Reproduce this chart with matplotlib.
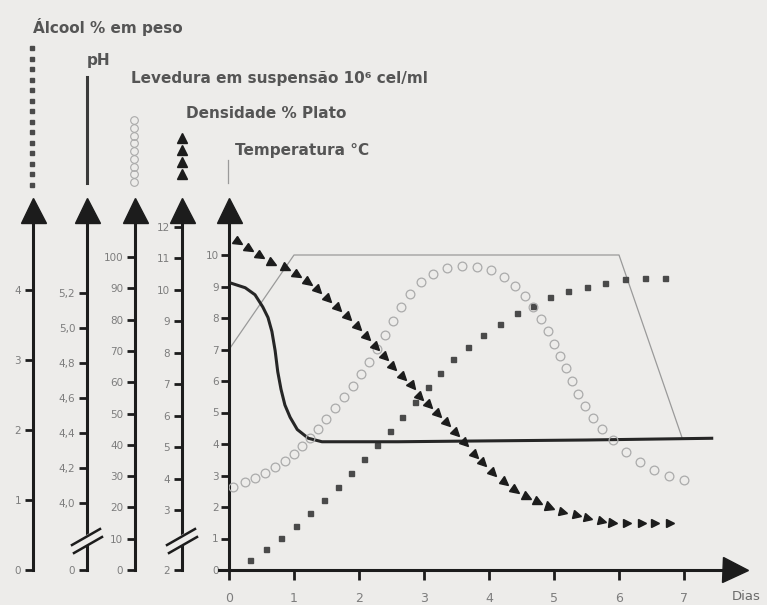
import numpy as np
import matplotlib
matplotlib.use("Agg")
import matplotlib.pyplot as plt
from matplotlib.transforms import offset_copy, Affine2D
from matplotlib.markers import MarkerStyle

# --- data (x in days) ---
# temperature (degC)
temp_days = [0, 1.0, 6.0, 6.97]
temp_vals = [7.0, 10.0, 10.0, 4.2]

# pH
ph_days = [0.0, 0.25, 0.40, 0.52, 0.60, 0.66, 0.71, 0.75, 0.80, 0.86, 0.94, 1.05,
           1.22, 1.43, 2.6, 4.0, 5.5, 7.45]
ph_vals = [5.26, 5.23, 5.19, 5.12, 5.06, 4.98, 4.87, 4.75, 4.65, 4.56, 4.49, 4.42,
           4.37, 4.35, 4.35, 4.355, 4.36, 4.37]

# density (% Plato), one entry per triangle
dens_days = [0.14, 0.31, 0.48, 0.66, 0.88, 1.05, 1.22, 1.37, 1.52, 1.68, 1.83, 1.98,
             2.12, 2.26, 2.40, 2.52, 2.68, 2.82, 2.94, 3.08, 3.22, 3.35, 3.49, 3.63,
             3.78, 3.91, 4.06, 4.25, 4.40, 4.58, 4.75, 4.94, 5.14, 5.35, 5.52, 5.74,
             5.91, 6.12, 6.35, 6.55, 6.78]
dens_vals = [11.52, 11.30, 11.08, 10.86, 10.70, 10.47, 10.25, 10.00, 9.71, 9.42, 9.14,
             8.82, 8.50, 8.18, 7.87, 7.55, 7.23, 6.94, 6.59, 6.34, 6.05, 5.77, 5.45,
             5.13, 4.75, 4.49, 4.18, 3.89, 3.64, 3.41, 3.25, 3.10, 2.94, 2.84, 2.75,
             2.65, 2.59, 2.59, 2.59, 2.59, 2.59]

# yeast in suspension (10^6 cel/ml), one entry per circle
yeast_days = [0.06, 0.25, 0.40, 0.55, 0.71, 0.86, 1.00, 1.12, 1.25, 1.37, 1.49, 1.63,
              1.77, 1.91, 2.03, 2.15, 2.28, 2.40, 2.52, 2.65, 2.78, 2.95, 3.14, 3.35,
              3.58, 3.82, 4.03, 4.23, 4.40, 4.55, 4.68, 4.80, 4.91, 5.00, 5.09, 5.18,
              5.28, 5.37, 5.48, 5.60, 5.74, 5.91, 6.11, 6.32, 6.54, 6.77, 7.00]
yeast_vals = [26.5, 28.1, 29.4, 31.0, 32.9, 34.8, 37.1, 39.6, 42.2, 45.0, 48.2, 51.8,
              55.3, 58.8, 62.6, 66.5, 70.6, 75.1, 79.6, 84.0, 88.2, 92.0, 94.6, 96.5,
              97.1, 96.8, 95.8, 93.6, 90.7, 87.5, 84.0, 80.2, 76.4, 72.2, 68.4, 64.5,
              60.4, 56.2, 52.4, 48.6, 45.0, 41.5, 37.7, 34.5, 31.9, 30.0, 28.8]

# alcohol (% em peso), one entry per dash
alc_days = [0.32, 0.57, 0.80, 1.03, 1.25, 1.46, 1.68, 1.88, 2.08, 2.28, 2.48, 2.66,
            2.86, 3.06, 3.25, 3.45, 3.68, 3.91, 4.17, 4.43, 4.68, 4.94, 5.22, 5.51,
            5.78, 6.09, 6.40, 6.71]
alc_vals = [0.14, 0.30, 0.46, 0.63, 0.81, 1.00, 1.19, 1.39, 1.59, 1.79, 1.99, 2.19,
            2.40, 2.61, 2.81, 3.01, 3.19, 3.36, 3.51, 3.67, 3.77, 3.90, 3.99, 4.04,
            4.10, 4.16, 4.17, 4.17]

x_ticks = list(range(8))
temp_ticks = list(range(11))
alc_ticks = [0, 1, 2, 3, 4]
ph_ticks = [4.0, 4.2, 4.4, 4.6, 4.8, 5.0, 5.2]
ph_labels = ["4,0", "4,2", "4,4", "4,6", "4,8", "5,0", "5,2"]
yeast_ticks = list(range(0, 101, 10))
dens_ticks = list(range(3, 13))

W, H, DPI = 767, 605, 100
bg = "#edecea"
ink = "#1c1c1c"
lab = "#7d7d7d"

fig = plt.figure(figsize=(W / DPI, H / DPI), dpi=DPI, facecolor=bg)
plt.rcParams["font.family"] = ["DejaVu Sans"]

x0, x1, y0, y1 = 229, 735, 570, 210   # main axes box in pixels
ax = fig.add_axes([x0 / W, (H - y0) / H, (x1 - x0) / W, (y0 - y1) / H])
ax.set_facecolor("none")
ax.set_xlim(0, (x1 - x0) / 65)
ax.set_ylim(0, (y0 - y1) / 31.5)
for s in ["top", "right"]:
    ax.spines[s].set_visible(False)
for s in ["left", "bottom"]:
    ax.spines[s].set_linewidth(2.2)
    ax.spines[s].set_color(ink)
ax.spines["bottom"].set_bounds(-0.15, (x1 - x0) / 65)
ax.set_xticks(x_ticks)
ax.set_yticks(temp_ticks)
ax.tick_params(axis="y", length=5.5, width=2.0, color=ink, labelsize=7.5,
               labelcolor=lab, pad=2)
ax.tick_params(axis="x", length=7, width=2.0, color=ink, labelsize=9,
               labelcolor=lab, pad=9)
ax.plot([1], [0], marker=">", ms=18, color=ink, transform=ax.transAxes, clip_on=False)
ax.plot([0], [1], marker="^", ms=18, color=ink, transform=ax.transAxes, clip_on=False)


def side_axis(offset_px, ylim, ticks, labels):
    a = ax.twinx()
    off = offset_px * 72 / DPI
    a.patch.set_visible(False)
    for s in ["top", "right", "bottom"]:
        a.spines[s].set_visible(False)
    a.spines["left"].set_visible(True)
    a.spines["left"].set_position(("outward", off))
    a.spines["left"].set_linewidth(2.2)
    a.spines["left"].set_color(ink)
    a.yaxis.set_ticks_position("left")
    a.set_ylim(*ylim)
    a.set_yticks(ticks, labels)
    a.tick_params(axis="y", length=5.5, width=2.0, color=ink, labelsize=7.5,
                  labelcolor=lab, pad=3)
    tr = offset_copy(a.transAxes, fig=fig, x=-off, y=0, units="points")
    a.plot([0], [1], marker="^", ms=18, color=ink, transform=tr, clip_on=False)
    return a


ax_alc = side_axis(229 - 33, (0, 360 / 70), alc_ticks, [str(t) for t in alc_ticks])
ph_lo = 4.0 - 67 / 175
ax_ph = side_axis(229 - 87, (ph_lo, 4.0 + 293 / 175), [ph_lo] + ph_ticks, ["0"] + ph_labels)
ax_yst = side_axis(229 - 135, (0, 360 / 3.13), yeast_ticks, [str(t) for t in yeast_ticks])
d_lo = 3 - 60 / 31.44
ax_den = side_axis(229 - 182, (d_lo, 3 + 300 / 31.44), [d_lo] + dens_ticks,
                   ["2"] + [str(t) for t in dens_ticks])

# curves
ax.plot(temp_days, temp_vals, color="#9a9a9a", lw=0.9, zorder=2)
ax_yst.plot(yeast_days, yeast_vals, ls="none", marker="o", ms=6.3, mfc="none",
            mec="#ababab", mew=0.9)
ax_alc.plot(alc_days, alc_vals, ls="none", marker="s", ms=3.6, color="#4a4a4a")
ax_ph.plot(ph_days, ph_vals, color="#262626", lw=2.2, solid_capstyle="butt")

# triangles turned along the curve direction
pts = ax_den.transData.transform(np.column_stack([dens_days, dens_vals]))
ang = np.degrees(np.arctan2(np.gradient(pts[:, 1]), np.gradient(pts[:, 0])))
for xd, yd, a in zip(dens_days, dens_vals, ang):
    m = MarkerStyle(">", transform=Affine2D().rotate_deg(a))
    ax_den.plot([xd], [yd], ls="none", marker=m, ms=6.3, color=ink)

# overlay in pixel coordinates: titles, legend glyphs, axis breaks
ov = fig.add_axes([0, 0, 1, 1])
ov.set_xlim(0, W)
ov.set_ylim(H, 0)
ov.axis("off")
ov.set_zorder(10)
ov.patch.set_visible(False)

tc = "#555555"
ov.text(33, 27, "Álcool % em peso", fontsize=11, fontweight="bold", color=tc, va="center")
ov.text(87, 61, "pH", fontsize=11, fontweight="bold", color=tc, va="center")
ov.text(131, 78, "Levedura em suspensão 10⁶ cel/ml", fontsize=11, fontweight="bold",
        color=tc, va="center")
ov.text(186, 113, "Densidade % Plato", fontsize=11, fontweight="bold", color=tc, va="center")
ov.text(235, 150, "Temperatura °C", fontsize=11, fontweight="bold", color=tc, va="center")
ov.text(746, 597, "Dias", fontsize=9.5, color="#6a6a6a", ha="center", va="center")

ov.plot(np.full(14, 32), np.linspace(48, 185, 14), ls="none", marker="s", ms=3.3,
        color="#4a4a4a")
ov.plot([87, 87], [77, 183], color="#3a3a3a", lw=2.2)
ov.plot(np.full(9, 134), np.linspace(120, 182, 9), ls="none", marker="o", ms=5.5,
        mfc="none", mec="#aaaaaa", mew=0.8)
ov.plot(np.full(4, 182), [138, 150, 162, 174], ls="none", marker="^", ms=7, color=ink)
ov.plot([228, 228], [160, 183], color="#9a9a9a", lw=0.9)

for xc in (87, 182):
    ov.fill([xc - 15, xc + 13, xc + 15, xc - 13],
            [544, 528, 537, 553], color=bg, zorder=3)
    ov.plot([xc - 15, xc + 13], [545, 529], color=ink, lw=1.8, zorder=4)
    ov.plot([xc - 13, xc + 15], [553, 537], color=ink, lw=1.8, zorder=4)

fig.savefig("out.png", dpi=DPI, facecolor=bg)
